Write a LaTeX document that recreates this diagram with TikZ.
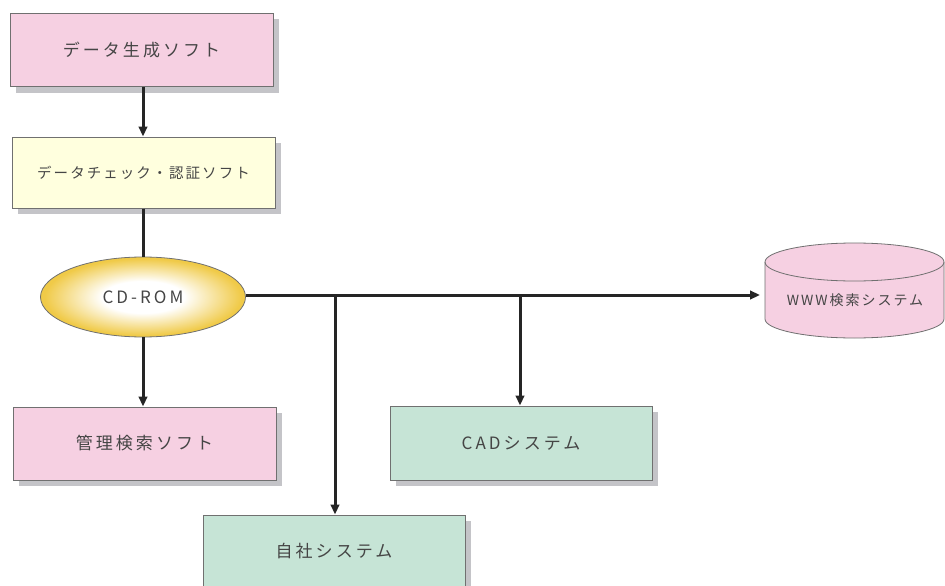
\documentclass[tikz,border=0pt]{standalone}
\usepackage{fontspec}
\newfontfamily\jp[LetterSpace=18]{Noto Sans CJK JP}
\newfontfamily\jpn[LetterSpace=14]{Noto Sans CJK JP}
\usetikzlibrary{arrows.meta,shadows,shapes.geometric}
\definecolor{txt}{HTML}{454545}
\definecolor{pinkf}{HTML}{F6D0E2}
\definecolor{yelf}{HTML}{FFFFDE}
\definecolor{grnf}{HTML}{C6E4D6}
\definecolor{edge}{HTML}{707070}
\definecolor{shad}{HTML}{C4C4C8}
\definecolor{cdout}{HTML}{F0CA48}
\definecolor{arr}{HTML}{252525}
\pgfdeclareradialshading{cdshade}{\pgfpoint{0bp}{0bp}}{color(0bp)=(white); color(10bp)=(white); color(24bp)=(cdout); color(25bp)=(cdout); color(50bp)=(cdout)}
\begin{document}
\begin{tikzpicture}[x=1pt,y=-1pt,
  bigtext/.style={font=\jp\fontsize{17pt}{19pt}\selectfont,text=txt},
  box/.style={draw=edge,line width=1pt,minimum width=263pt,minimum height=73pt,
     bigtext,
     drop shadow={shadow xshift=6pt,shadow yshift=-6pt,fill=shad,opacity=1}},
  conn/.style={draw=arr,line width=3pt},
  arrow/.style={conn,-{Triangle[length=10pt,width=8.5pt]}}]
\useasboundingbox[fill=white] (0,0) rectangle (945,586);
\node[box,fill=pinkf] (gen) at (141.5,50) {データ生成ソフト};
\node[box,fill=yelf,minimum height=71pt,font=\jpn\fontsize{14.5pt}{16pt}\selectfont] (chk) at (143.5,172.5) {データチェック・認証ソフト};
\node[ellipse,draw=edge,line width=0.8pt,minimum width=205pt,minimum height=80pt,
   shading=cdshade,bigtext] (cd) at (143,297) {CD-ROM};
\node[box,fill=pinkf] (mgr) at (144.5,443.5) {管理検索ソフト};
\node[box,fill=grnf,minimum width=262pt,minimum height=74pt] (cad) at (521,443) {CADシステム};
\node[box,fill=grnf,minimum width=262pt,minimum height=72pt] (own) at (334,551) {自社システム};
% cylinder
\draw[draw=edge,line width=0.8pt,fill=pinkf]
  (765,262) -- (765,319)
  arc[start angle=180,end angle=360,x radius=89.5pt,y radius=19pt]
  -- (944,262)
  arc[start angle=0,end angle=180,x radius=89.5pt,y radius=19pt] -- cycle;
\draw[draw=edge,line width=0.8pt]
  (765,262) arc[start angle=180,end angle=360,x radius=89.5pt,y radius=19pt];
\node[font=\jpn\fontsize{14pt}{16pt}\selectfont,text=txt] (www) at (855,300) {WWW検索システム};
% connectors
\coordinate (wend) at (760,295);
\draw[arrow] (gen.south -| 143,0) -- (chk.north -| 143,0);
\draw[conn] (chk.south -| 143,0) -- (cd.north);
\draw[arrow] (cd.south) -- (mgr.north -| cd.south);
\draw[arrow] (cd.east |- wend) -- (wend);
\coordinate (b1) at (335,295);
\coordinate (b2) at (520,295);
\draw[arrow] (b1) -- (own.north -| b1);
\draw[arrow] (b2) -- (cad.north -| b2);
\end{tikzpicture}
\end{document}
